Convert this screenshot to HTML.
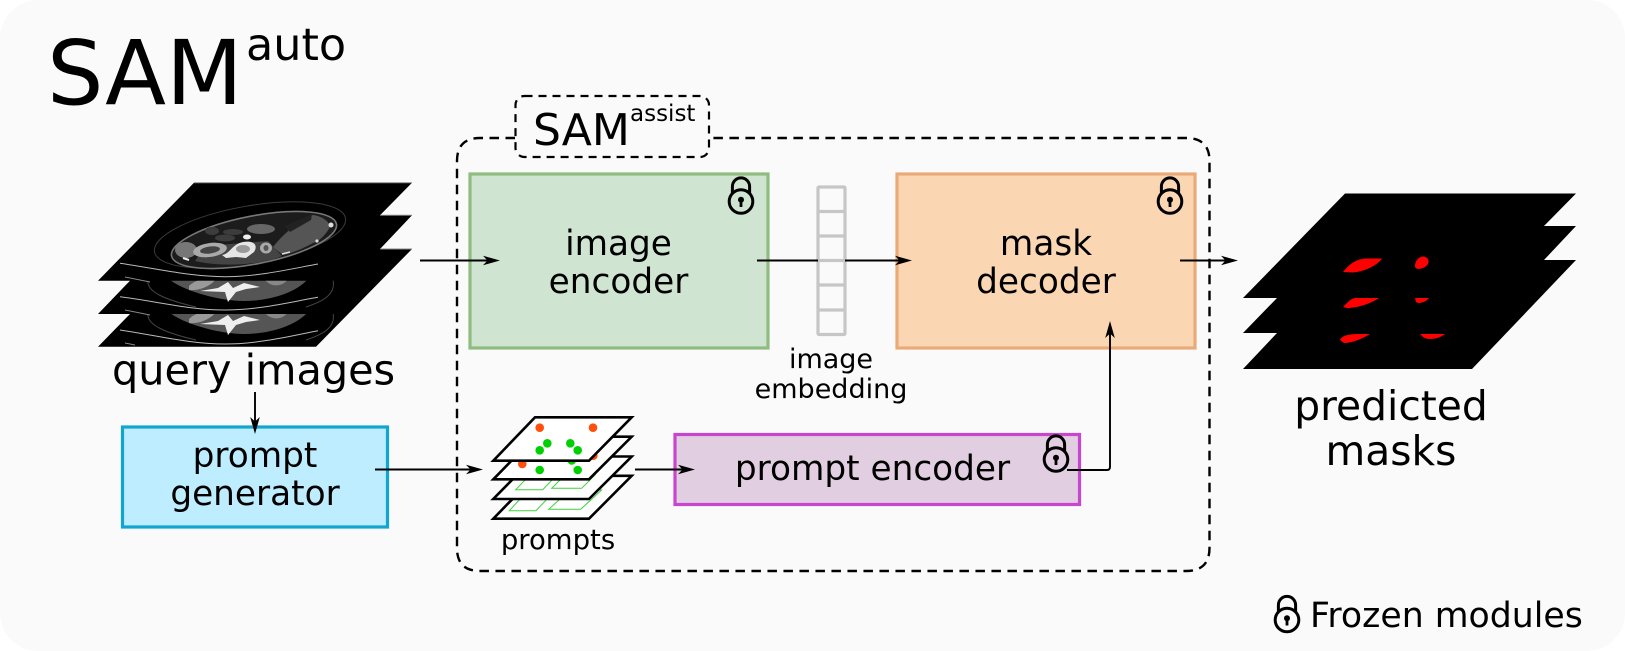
<!DOCTYPE html>
<html><head><meta charset="utf-8"><style>
html,body{margin:0;padding:0;background:#fff;width:1625px;height:651px;overflow:hidden}
svg{display:block}
text{font-family:"DejaVu Sans",sans-serif;fill:#000}
</style></head><body>
<svg width="1625" height="651" viewBox="0 0 1625 651" xmlns="http://www.w3.org/2000/svg">
<defs>
<g id="lock" fill="none" stroke="#000">
<path d="M-8.6,-3 V-10.5 A8.6,8.6 0 0 1 8.6,-10.5 V-3" stroke-width="3"/>
<circle cx="0" cy="4.5" r="11.8" stroke-width="3"/>
<circle cx="0" cy="2.8" r="3" fill="#000" stroke="none"/>
<path d="M0,3 V10" stroke-width="2.8"/>
</g>
<g id="ah"><path d="M0,0 L-17,-4.8 L-12.5,0 L-17,4.8 Z" fill="#000"/></g>
<g id="ctlow">
<path d="M-66,-24 C-50,-12 -15,-3 8,-3 C35,-3 60,-12 71,-24 Z" fill="#555"/>
<path d="M-47,-18 C-40,-25 -28,-27 -20,-25 C-26,-17 -38,-13 -47,-14 Z" fill="#999"/>
<path d="M28,-25 L52,-25 C47,-17 35,-16 28,-25 Z" fill="#888"/>
<path d="M-36,-13 L-18,-16 L-8,-22 L-3,-16 L8,-21 L24,-17 L10,-15 L0,-12 L-8,-2 L-11,-12 Z" fill="#eee"/>
<path d="M-88,-24 C-90,-12 -70,-4 -40,3" fill="none" stroke="#444" stroke-width="1"/>
<path d="M97,-24 C100,-10 88,-3 70,3" fill="none" stroke="#444" stroke-width="1"/>
</g>
<clipPath id="c2"><rect x="90" y="280.7" width="330" height="33.3"/></clipPath>
<clipPath id="c3"><rect x="90" y="314" width="330" height="32.7"/></clipPath>
</defs>
<rect x="0" y="0" width="1625" height="651" rx="38" ry="38" fill="#fafafa"/>

<text x="47" y="104" font-size="89">SAM</text>
<text x="246" y="60" font-size="44.5">auto</text>

<!-- query image stack -->
<polygon points="194,182.7 412,182.7 380,215.3 412,215.3 380,249 412,249 316,346.7 98,346.7 130,314 98,314 130,280.7 98,280.7" fill="#000"/>
<path d="M194,182.7 H412" stroke="#888" stroke-width="1"/>
<path d="M380,215.3 H412 M380,249 H412" stroke="#888" stroke-width="1"/>
<g clip-path="url(#c2)"><g transform="translate(236,304)"><use href="#ctlow"/></g></g>
<g clip-path="url(#c3)"><g transform="translate(236,337)"><use href="#ctlow"/></g></g>
<g fill="none" stroke="#bbb" stroke-width="1">
<path d="M120,263.3 C160,269 190,276.7 225,276.7 C260,276.7 295,268 318,264"/>
<path d="M120,296.7 C160,302 190,310 225,310 C260,310 295,301 318,297.3"/>
<path d="M120,330 C160,336 190,344 225,344 C260,344 295,335 318,330.7"/>
<path d="M125,277 L150,282 M125,310 L150,315 M125,343 L135,345" stroke="#888"/>
</g>
<!-- top slice CT -->
<g>
<ellipse cx="250" cy="235" rx="97" ry="29" transform="rotate(-10 250 235)" fill="none" stroke="#3a3a3a" stroke-width="1"/>
<ellipse cx="254" cy="240" rx="84" ry="24" transform="rotate(-11 254 240)" fill="#1c1c1c" stroke="#777" stroke-width="1.6"/>
<path d="M273,247 C285,232 300,220 313,215 C322,216 330,222 330,227 C325,236 318,242 313,243 C300,250 292,253 283,255 Z" fill="#555"/>
<path d="M195,261 C225,268 265,264 282,256 L268,241 L205,246 Z" fill="#444"/>
<ellipse cx="186" cy="250" rx="11" ry="8" fill="#777"/>
<ellipse cx="210" cy="250" rx="17" ry="7" transform="rotate(-8 210 250)" fill="#aaa"/>
<ellipse cx="210" cy="250" rx="10" ry="3.5" transform="rotate(-8 210 250)" fill="#444"/>
<path d="M222,255 C230,254 232,244 243,242 C255,240 258,246 254,252 L246,258 L236,257 L226,258 Z" fill="#e5e5e5"/>
<ellipse cx="243" cy="249" rx="7" ry="4" fill="#999"/>
<ellipse cx="266" cy="248" rx="6" ry="5.5" fill="#aaa"/>
<ellipse cx="266" cy="248" rx="2.5" ry="3" fill="#555"/>
<ellipse cx="261" cy="229" rx="14" ry="5" fill="#666"/>
<ellipse cx="247" cy="237" rx="4" ry="2.5" fill="#eee"/>
<ellipse cx="212" cy="231" rx="7" ry="4" fill="#3c3c3c"/>
<ellipse cx="225" cy="238" rx="10" ry="3.5" fill="#3c3c3c"/>
<ellipse cx="233" cy="232" rx="10" ry="3" fill="#3c3c3c"/>
<path d="M285,226 L312,214 L311,220 L290,232 Z" fill="#222"/>
<circle cx="331" cy="225" r="2.5" fill="#ddd"/><circle cx="317" cy="241" r="1.6" fill="#ddd"/>
<path d="M183,258 l6,2" stroke="#eee" stroke-width="2"/>
<path d="M282,254 l8,-2" stroke="#ddd" stroke-width="1.5"/>
</g>

<!-- dashed SAM assist -->
<path d="M515,138 H480 Q457,138 457,161 V548 Q457,571 480,571 H1186 Q1209.5,571 1209.5,548 V161 Q1209.5,138 1186,138 H709" fill="none" stroke="#000" stroke-width="2.4" stroke-dasharray="9.5 6.5"/>
<rect x="515.5" y="96" width="193.5" height="61" rx="9" fill="#fafafa" stroke="#000" stroke-width="2.2" stroke-dasharray="8 6"/>
<text x="533" y="145" font-size="44">SAM</text>
<text x="630" y="121" font-size="23">assist</text>

<!-- image encoder -->
<rect x="470" y="174" width="298" height="174" fill="#cfe4d1" stroke="#8fbc7f" stroke-width="3.2"/>
<text x="618.5" y="255" font-size="34.3" text-anchor="middle">image</text>
<text x="618.5" y="293" font-size="34.3" text-anchor="middle">encoder</text>
<use href="#lock" x="741" y="197"/>

<!-- mask decoder -->
<rect x="897" y="174" width="298" height="174" fill="#fbd6b3" stroke="#e9aa78" stroke-width="3.2"/>
<text x="1046" y="255" font-size="34.3" text-anchor="middle">mask</text>
<text x="1046" y="293" font-size="34.3" text-anchor="middle">decoder</text>
<use href="#lock" x="1170" y="197"/>

<!-- image embedding -->
<g fill="none" stroke="#c6c6c6" stroke-width="3.2">
<rect x="818" y="187" width="27" height="147.5" rx="1"/>
<path d="M818,211.5 H845 M818,236 H845 M818,260.5 H845 M818,285 H845 M818,310 H845"/>
</g>
<text x="831" y="368" font-size="27" text-anchor="middle">image</text>
<text x="831" y="398" font-size="27" text-anchor="middle">embedding</text>

<!-- prompt generator -->
<rect x="122.5" y="427" width="265" height="100" fill="#bdedfe" stroke="#12a5cf" stroke-width="3.2"/>
<text x="255" y="467" font-size="34.3" text-anchor="middle">prompt</text>
<text x="255" y="505" font-size="34.3" text-anchor="middle">generator</text>

<!-- prompt encoder -->
<rect x="675" y="434.5" width="404.5" height="70" fill="#e1cfe1" stroke="#c845cf" stroke-width="3.2"/>
<text x="872.5" y="480" font-size="34.3" text-anchor="middle">prompt encoder</text>
<use href="#lock" x="1056" y="455"/>

<!-- prompts stack -->
<polygon points="535,475.8 631.7,475.8 589,518.7 493.3,518.7" stroke="#000" stroke-width="2.6" fill="#fff"/>
<g fill="none" stroke="#3fd23f" stroke-width="1">
<polygon points="509.3,510.7 536,510.7 549,497 522,497"/>
<polygon points="548.7,509.3 580.7,509.3 601.7,490 570,490"/>
</g>
<polygon points="535,456.5 631.7,456.5 589,499 493.3,499" stroke="#000" stroke-width="2.6" fill="#fff"/>
<g fill="none" stroke="#3fd23f" stroke-width="1">
<polygon points="515.7,489.7 542.7,489.7 552,480 525,480"/>
<polygon points="551.7,488.3 581.7,488.3 595,475 565,475"/>
</g>
<polygon points="535,436.7 631.7,436.7 589,479.3 493.3,479.3" stroke="#000" stroke-width="2.6" fill="#fff"/>
<circle cx="522.3" cy="464" r="4.3" fill="#ff4f0a"/>
<circle cx="593.3" cy="455.7" r="4.3" fill="#ff4f0a"/>
<circle cx="571.7" cy="460.5" r="4.3" fill="#00d000"/>
<circle cx="539.7" cy="470" r="4.3" fill="#00d000"/>
<circle cx="577.7" cy="470" r="4.3" fill="#00d000"/>
<polygon points="535,417.3 631.7,417.3 589,460.7 493.3,460.7" stroke="#000" stroke-width="2.6" fill="#fff"/>
<circle cx="539.7" cy="427.7" r="4.3" fill="#ff4f0a"/>
<circle cx="593" cy="427.7" r="4.3" fill="#ff4f0a"/>
<circle cx="547.3" cy="443.3" r="4.3" fill="#00d000"/>
<circle cx="570.3" cy="443.3" r="4.3" fill="#00d000"/>
<circle cx="539.7" cy="450.3" r="4.3" fill="#00d000"/>
<circle cx="577.7" cy="450.3" r="4.3" fill="#00d000"/>
<text x="558" y="549" font-size="27.5" text-anchor="middle">prompts</text>

<!-- predicted masks stack -->
<polygon points="1345,193.5 1576,193.5 1544,226 1576,226 1544,260 1576,260 1472,369 1243,369 1277,333 1243,333 1277,298 1243,298" fill="#000"/>
<g fill="#f00">
<path d="M1343,272 C1350,263 1357,259 1366,258.5 L1382,258.5 C1378,265 1364,272 1352,272.5 Z"/>
<path d="M1415,266 C1415,260 1420,256 1424,256.5 C1430,258 1430,264 1425,267 C1421,269.5 1415,270 1415,266 Z"/>
<path d="M1343,307 C1348,302 1351,298 1356,298 L1379,298 C1372,303 1358,308 1347,308 Z"/>
<path d="M1415,298 L1429,298 C1425,303 1418,304 1416,302 Z"/>
<path d="M1340,340 C1342,335 1350,334 1360,334 L1370,334 C1362,339 1352,343 1344,343 Z"/>
<path d="M1420,334 L1445,334 C1438,340 1426,340 1423,337 Z"/>
</g>
<text x="1391" y="420" font-size="40.8" text-anchor="middle">predicted</text>
<text x="1391" y="465" font-size="40.8" text-anchor="middle">masks</text>

<text x="112" y="384.5" font-size="41.4">query images</text>

<!-- connectors -->
<g fill="none" stroke="#000" stroke-width="1.9">
<path d="M420,260.5 H490"/>
<path d="M757,260.5 H818 M845,260.5 H902"/>
<path d="M1180,260.5 H1228"/>
<path d="M255,392 V424"/>
<path d="M375,469.5 H474"/>
<path d="M635,469.5 H686"/>
<path d="M1067,470 H1107 Q1110,470 1110,467 V331"/>
</g>
<use href="#ah" x="500" y="260.5"/>
<use href="#ah" x="912" y="260.5"/>
<use href="#ah" x="1238" y="260.5"/>
<use href="#ah" transform="translate(255,434) rotate(90)"/>
<use href="#ah" x="483" y="469.5"/>
<use href="#ah" x="695" y="469.5"/>
<use href="#ah" transform="translate(1110,321) rotate(-90)"/>

<use href="#lock" x="1287" y="615.5"/>
<text x="1310" y="627" font-size="34.7">Frozen modules</text>
</svg>
</body></html>
